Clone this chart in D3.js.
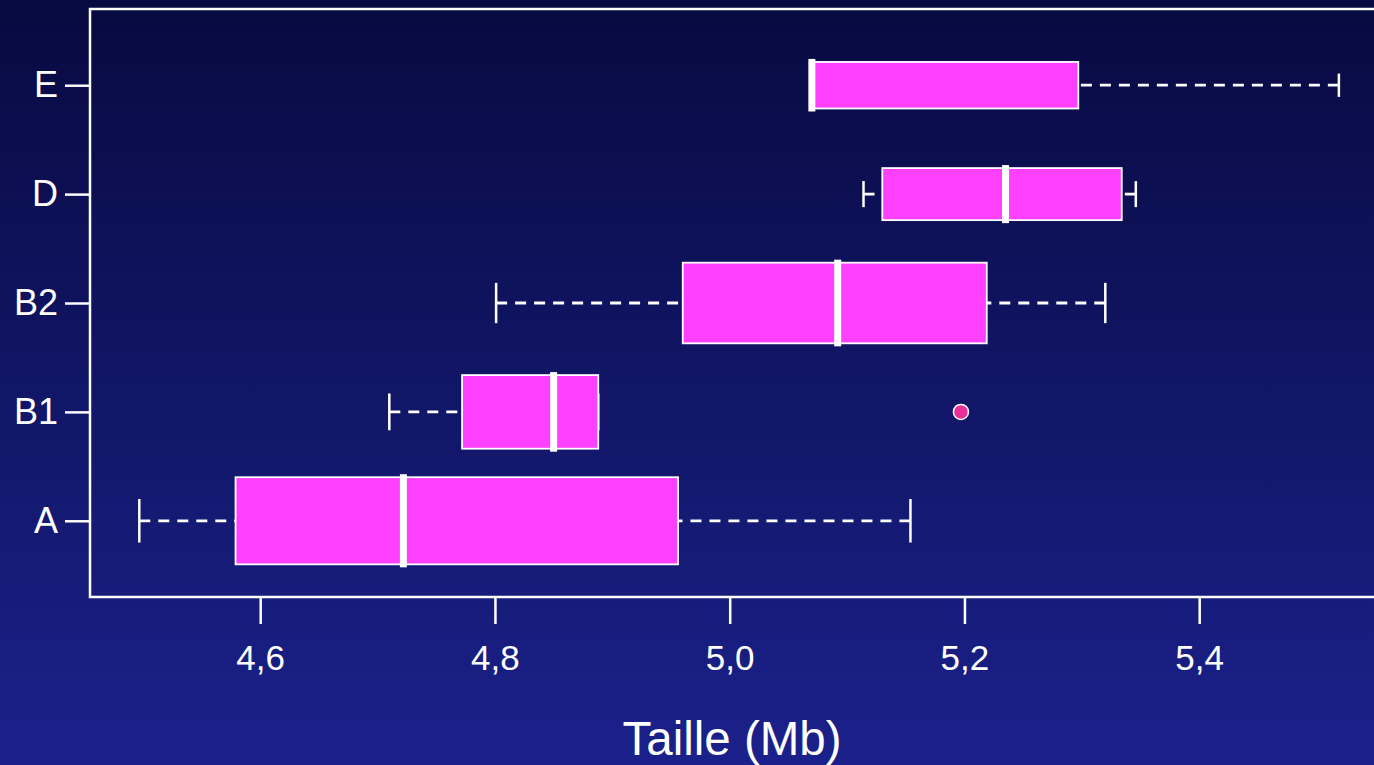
<!DOCTYPE html>
<html>
<head>
<meta charset="utf-8">
<script src="https://cdn.jsdelivr.net/npm/d3@7"></script>
<style>
  html, body { margin: 0; padding: 0; overflow: hidden; background: #0a0e4a; }
  text { font-family: "Liberation Sans", Arial, sans-serif; fill: #fff; }
</style>
</head>
<body>
<script>
// GLOBAL VARIABLES
const WIDTH = 1374;
const HEIGHT = 765;

// DATA
const groups = ["A", "B1", "B2", "D", "E"];
const counts = [14, 10, 12, 5, 4];
const lowWhisker = [4.497, 4.710, 4.801, 5.114, 5.070];
const q1 = [4.579, 4.772, 4.960, 5.130, 5.070];
const medians = [4.722, 4.850, 5.092, 5.235, 5.070];
const q3 = [4.956, 4.888, 5.219, 5.334, 5.297];
const highWhisker = [5.154, 4.888, 5.320, 5.346, 5.519];
const outlierGroups = ["B1"];
const outlierValues = [5.197];
const xTicks = [4.6, 4.8, 5.0, 5.2, 5.4];
const xTitle = "Taille (Mb)";

const boxes = groups.map((g, i) => ({
  group: g,
  pos: i + 1,
  n: counts[i],
  lo: lowWhisker[i],
  q1: q1[i],
  med: medians[i],
  q3: q3[i],
  hi: highWhisker[i],
}));
const outliers = outlierGroups.map((g, i) => ({ pos: groups.indexOf(g) + 1, value: outlierValues[i] }));

const svg = d3.select("body").append("svg").attr("width", WIDTH).attr("height", HEIGHT);

// BACKGROUND GRADIENT
const grad = svg.append("defs").append("linearGradient")
  .attr("id", "bg").attr("x1", 0).attr("y1", 0).attr("x2", 0).attr("y2", 1);
grad.append("stop").attr("offset", "0%").attr("stop-color", "#070a40");
grad.append("stop").attr("offset", "100%").attr("stop-color", "#1b218b");
svg.append("rect").attr("width", WIDTH).attr("height", HEIGHT).attr("fill", "url(#bg)");

// SCALES
const x = d3.scaleLinear().domain([4.455, 5.56]).range([90, 1387]);
const y = d3.scaleLinear().domain([0.3, 5.7]).range([597, 9]);
const unit = y(0) - y(1);
const maxN = d3.max(counts);
const boxH = n => 0.8 * unit * Math.sqrt(n / maxN);

// AXES
const xAxis = d3.axisBottom(x)
  .tickValues(xTicks)
  .tickSize(27)
  .tickPadding(21)
  .tickFormat(d => d3.format(".1f")(d).replace(".", ","));

const xg = svg.append("g").attr("transform", `translate(0,${y(0.3)})`).call(xAxis);
xg.select(".domain").remove();
xg.selectAll("line").attr("stroke", "#fff").attr("stroke-width", 2.5);
xg.selectAll("text").attr("font-size", 35).attr("fill", "#fff");

const yAxis = d3.axisLeft(y)
  .tickValues(boxes.map(d => d.pos))
  .tickSize(25)
  .tickPadding(7)
  .tickFormat(d => groups[d - 1]);

const yg = svg.append("g").attr("transform", `translate(${x(4.455)},0)`).call(yAxis);
yg.select(".domain").remove();
yg.selectAll("line").attr("stroke", "#fff").attr("stroke-width", 2.5);
yg.selectAll("text").attr("font-size", 36).attr("fill", "#fff");

// FRAME
svg.append("rect")
  .attr("x", x(4.455)).attr("y", y(5.7))
  .attr("width", x(5.56) - x(4.455)).attr("height", y(0.3) - y(5.7))
  .attr("fill", "none").attr("stroke", "#fff").attr("stroke-width", 2.5);

// BOXPLOTS
const bg = svg.append("g")
  .selectAll("g")
  .data(boxes)
  .enter()
  .append("g");

// whiskers, drawn from the staple toward the box
bg.append("line")
  .attr("x1", d => x(d.lo)).attr("x2", d => x(d.q1))
  .attr("y1", d => y(d.pos)).attr("y2", d => y(d.pos))
  .attr("stroke", "#fff").attr("stroke-width", 2.8).attr("stroke-dasharray", "11,8");
bg.append("line")
  .attr("x1", d => x(d.hi)).attr("x2", d => x(d.q3))
  .attr("y1", d => y(d.pos)).attr("y2", d => y(d.pos))
  .attr("stroke", "#fff").attr("stroke-width", 2.8).attr("stroke-dasharray", "11,8");

// staples
["lo", "hi"].forEach(k => {
  bg.append("line")
    .attr("x1", d => x(d[k])).attr("x2", d => x(d[k]))
    .attr("y1", d => y(d.pos) - boxH(d.n) / 4).attr("y2", d => y(d.pos) + boxH(d.n) / 4)
    .attr("stroke", "#fff").attr("stroke-width", 2.5);
});

// boxes
bg.append("rect")
  .attr("x", d => x(d.q1))
  .attr("y", d => y(d.pos) - boxH(d.n) / 2)
  .attr("width", d => x(d.q3) - x(d.q1))
  .attr("height", d => boxH(d.n))
  .attr("fill", "#ff40ff")
  .attr("stroke", "#fff")
  .attr("stroke-width", 1.8);

// medians
bg.append("rect")
  .attr("x", d => x(d.med) - 3.5)
  .attr("y", d => y(d.pos) - boxH(d.n) / 2 - 3)
  .attr("width", 7)
  .attr("height", d => boxH(d.n) + 6)
  .attr("fill", "#fff");

// OUTLIERS
svg.append("g")
  .selectAll("circle")
  .data(outliers)
  .enter()
  .append("circle")
  .attr("cx", d => x(d.value))
  .attr("cy", d => y(d.pos))
  .attr("r", 7.5)
  .attr("fill", "#e8309a")
  .attr("stroke", "#fff")
  .attr("stroke-width", 1.5);

// AXIS TITLE
svg.append("text")
  .attr("x", 732)
  .attr("y", 755)
  .attr("text-anchor", "middle")
  .attr("font-size", 47.5)
  .text(xTitle);
</script>
</body>
</html>
